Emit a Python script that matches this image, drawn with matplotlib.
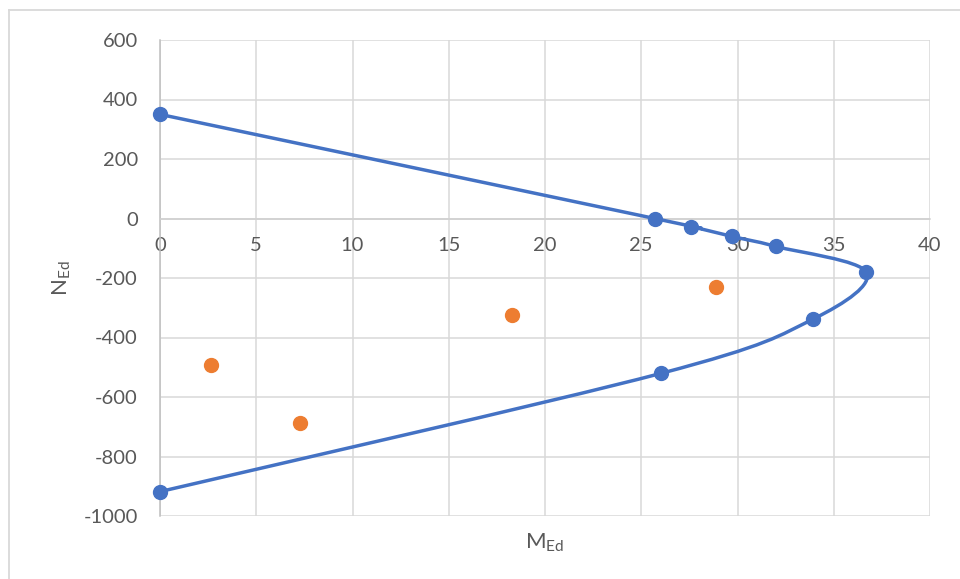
import matplotlib
matplotlib.use("Agg")
import matplotlib.pyplot as plt
from matplotlib.path import Path
from matplotlib.patches import PathPatch
from matplotlib.lines import Line2D
import numpy as np

plt.rcParams['font.family'] = ['Lato', 'DejaVu Sans']
plt.rcParams['mathtext.fontset'] = 'custom'
plt.rcParams['mathtext.rm'] = 'Lato'
plt.rcParams['axes.unicode_minus'] = False

# Data
curve_m = [0, 25.7, 27.6, 29.7, 32.0, 36.7, 33.9, 26.0, 0]
curve_n = [350, 0, -27, -60, -94, -181, -339, -521, -918]
load_m = [2.65, 7.27, 18.3, 28.9]
load_n = [-494, -689, -323, -229]
x_ticks = [0, 5, 10, 15, 20, 25, 30, 35, 40]
y_ticks = [-1000, -800, -600, -400, -200, 0, 200, 400, 600]

blue = '#4472C4'
orange = '#ED7D31'
tick_color = '#595959'
grid_color = '#d9d9d9'

fig = plt.figure(figsize=(9.6, 5.79), dpi=100)
ax = fig.add_axes([160/960, 1-516/579, 770/960, 476/579])
ax.set_xlim(0, 40)
ax.set_ylim(-1000, 600)
ax.set_xticks(x_ticks)
ax.set_yticks(y_ticks)
ax.grid(True, color=grid_color, linewidth=1.1)
ax.set_axisbelow(True)

for s in ['top', 'right']:
    ax.spines[s].set_visible(False)
ax.spines['left'].set_position(('data', 0))
ax.spines['left'].set_color('#bfbfbf')
ax.spines['left'].set_linewidth(1.1)
ax.spines['bottom'].set_position(('data', 0))
ax.spines['bottom'].set_color('#d0d0d0')
ax.spines['bottom'].set_linewidth(1.1)

ax.tick_params(axis='x', length=0, pad=13.5, labelsize=14.5, labelcolor=tick_color)
ax.tick_params(axis='y', length=0, pad=16, labelsize=14.5, labelcolor=tick_color)

# smoothed line (Catmull-Rom as cubic Bezier)
P = np.column_stack([curve_m, curve_n]).astype(float)
n = len(P)
verts = [P[0]]
codes = [Path.MOVETO]
for i in range(n - 1):
    p0 = P[i - 1] if i > 0 else P[i]
    p1 = P[i]
    p2 = P[i + 1]
    p3 = P[i + 2] if i + 2 < n else P[i + 1]
    c1 = p1 + (p2 - p0) / 6.0
    c2 = p2 - (p3 - p1) / 6.0
    verts += [c1, c2, p2]
    codes += [Path.CURVE4] * 3
patch = PathPatch(Path(verts, codes), facecolor='none', edgecolor=blue, linewidth=2.5, zorder=3, clip_on=False)
ax.add_patch(patch)
ax.plot(curve_m, curve_n, 'o', color=blue, markersize=10, zorder=4, clip_on=False)
ax.plot(load_m, load_n, 'o', color=orange, markersize=10, zorder=4, clip_on=False)

fig.text(545/960, 1-543/579, r'M$_{\mathrm{Ed}}$', ha='center', va='center', fontsize=16, color=tick_color)
fig.text(62/960, 1-278/579, r'N$_{\mathrm{Ed}}$', ha='center', va='center', fontsize=16, color=tick_color, rotation=90)

# chart border (left & top visible)
fig.add_artist(Line2D([9/960, 9/960], [0, 1-9.5/579], transform=fig.transFigure, color=grid_color, linewidth=1.3))
fig.add_artist(Line2D([9/960, 1], [1-9.5/579, 1-9.5/579], transform=fig.transFigure, color=grid_color, linewidth=1.3))

fig.savefig('out.png', dpi=100)
